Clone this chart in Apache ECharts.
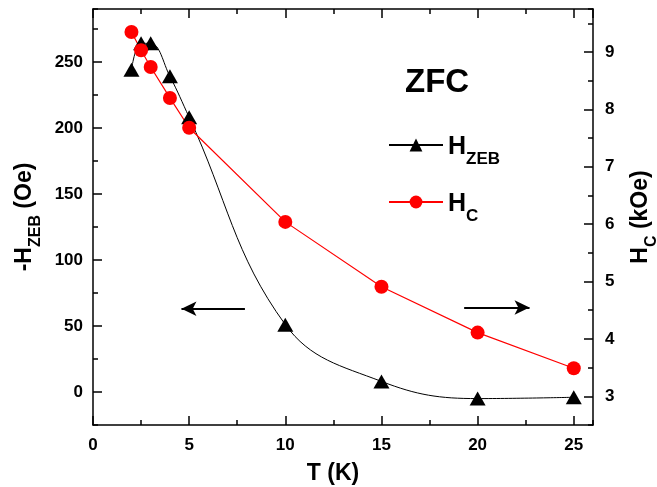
<!DOCTYPE html>
<html><head><meta charset="utf-8">
<script src="https://cdn.jsdelivr.net/npm/echarts@6/dist/echarts.min.js"></script>
<style>html,body{margin:0;padding:0;background:#fff}#c{width:657px;height:487px}</style>
</head><body><div id="c"></div>
<script>
const T = [2, 2.5, 3, 4, 5, 10, 15, 20, 25];
const HZEB = [244, 264, 264, 239, 208, 51, 8, -5, -4];
const HC = [9.35, 9.03, 8.74, 8.2, 7.68, 6.04, 4.91, 4.11, 3.49];
const leftArrow = [[7.9, 63], [4.6, 63]];
const rightArrow = [[19.3, 64], [22.7, 64]];

const F = 'Liberation Sans, Arial, sans-serif';
const X_RANGE = [0, 26], L_RANGE = [-25, 290], R_RANGE = [2.5, 9.75];
const chart = echarts.init(document.getElementById('c'));
const lineS = {color: '#000', width: 1.5};
const majorTick = {show: true, inside: true, length: 9, lineStyle: lineS};
const minorTickS = {show: true, inside: true, length: 5, lineStyle: lineS};
const lbl = {color: '#000', fontFamily: F, fontWeight: 'bold', fontSize: 17};
const rich = {
  a: {fontFamily: F, fontWeight: 'bold', fontSize: 23, color: '#000', verticalAlign: 'bottom', lineHeight: 28},
  s: {fontFamily: F, fontWeight: 'bold', fontSize: 16, color: '#000', verticalAlign: 'bottom', lineHeight: 19, padding: [0,0,-8,0]}
};
function minorAxis(pos, range, step) {
  return {type: 'value', position: pos, min: range[0], max: range[1], interval: step,
    axisLine: {show: false, onZero: false}, axisTick: minorTickS, axisLabel: {show: false}, splitLine: {show: false}};
}
chart.setOption({
  animation: false,
  grid: {left: 93, right: 64, top: 9, bottom: 62, containLabel: false, outerBoundsMode: 'none'},
  title: {text: 'ZFC', left: 400, top: 61, textStyle: {fontFamily: F, fontWeight: 'bold', fontSize: 33, color: '#000'}},
  legend: {
    orient: 'vertical', left: 383, top: 130, itemGap: 24, itemWidth: 54, itemHeight: 16,
    data: ['HZEB', 'HC'],
    formatter: n => n === 'HZEB' ? '{a|H}{s|ZEB}' : '{a|H}{s|C}',
    textStyle: {rich: {
      a: {fontFamily: F, fontWeight: 'bold', fontSize: 25, color: '#000', verticalAlign: 'bottom', lineHeight: 30},
      s: {fontFamily: F, fontWeight: 'bold', fontSize: 17, color: '#000', verticalAlign: 'bottom', lineHeight: 22, padding: [0,0,-8,0]}
    }}
  },
  xAxis: [{
    type: 'value', position: 'bottom', min: X_RANGE[0], max: X_RANGE[1], splitNumber: 5,
    axisLine: {onZero: false, lineStyle: lineS}, axisTick: majorTick, splitLine: {show: false},
    axisLabel: Object.assign({margin: 12, showMaxLabel: false}, lbl),
    name: 'T (K)', nameLocation: 'middle', nameGap: 37,
    nameTextStyle: {fontFamily: F, fontWeight: 'bold', fontSize: 23, color: '#000', padding: [0, 20, 0, 0]}
  }, {
    type: 'value', position: 'top', min: X_RANGE[0], max: X_RANGE[1], splitNumber: 5,
    axisLine: {show: true, onZero: false, lineStyle: lineS}, axisTick: majorTick, splitLine: {show: false},
    axisLabel: {show: false}
  },
  minorAxis('bottom', X_RANGE, 2.5),
  minorAxis('top', X_RANGE, 2.5)],
  yAxis: [{
    type: 'value', position: 'left', min: L_RANGE[0], max: L_RANGE[1], splitNumber: 6,
    axisLine: {show: true, onZero: false, lineStyle: lineS}, axisTick: majorTick, splitLine: {show: false},
    axisLabel: Object.assign({margin: 10, showMinLabel: false, showMaxLabel: false}, lbl),
    name: '{a|-H}{s|ZEB}{a| (Oe)}', nameLocation: 'middle', nameGap: 48,
    nameTextStyle: {rich: rich}
  }, {
    type: 'value', position: 'right', min: R_RANGE[0], max: R_RANGE[1], splitNumber: 6,
    axisLine: {show: true, onZero: false, lineStyle: lineS}, axisTick: majorTick, splitLine: {show: false},
    axisLabel: Object.assign({margin: 12, showMinLabel: false, showMaxLabel: false}, lbl),
    name: '{a|H}{s|C}{a| (kOe)}', nameLocation: 'middle', nameGap: 31, nameRotate: 90,
    nameTextStyle: {rich: rich}
  },
  minorAxis('left', L_RANGE, 25),
  minorAxis('right', R_RANGE, 0.5)],
  series: [{
    name: 'HZEB', type: 'line', xAxisIndex: 0, yAxisIndex: 0,
    data: T.map((t, i) => [t, HZEB[i]]), smooth: 0.4,
    symbol: 'triangle', symbolSize: [16, 14],
    lineStyle: {color: '#000', width: 1}, itemStyle: {color: '#000'},
    markLine: {
      silent: true, symbol: ['none', 'arrow'], symbolSize: [11, 15], label: {show: false},
      lineStyle: {color: '#000', width: 1.8, type: 'solid'},
      data: [
        [{coord: leftArrow[0]}, {coord: leftArrow[1]}],
        [{coord: rightArrow[0]}, {coord: rightArrow[1]}]
      ]
    }
  }, {
    name: 'HC', type: 'line', xAxisIndex: 0, yAxisIndex: 1,
    data: T.map((t, i) => [t, HC[i]]),
    symbol: 'circle', symbolSize: 14,
    lineStyle: {color: '#ff0000', width: 1.2}, itemStyle: {color: '#ff0000'}
  }]
});
</script></body></html>
